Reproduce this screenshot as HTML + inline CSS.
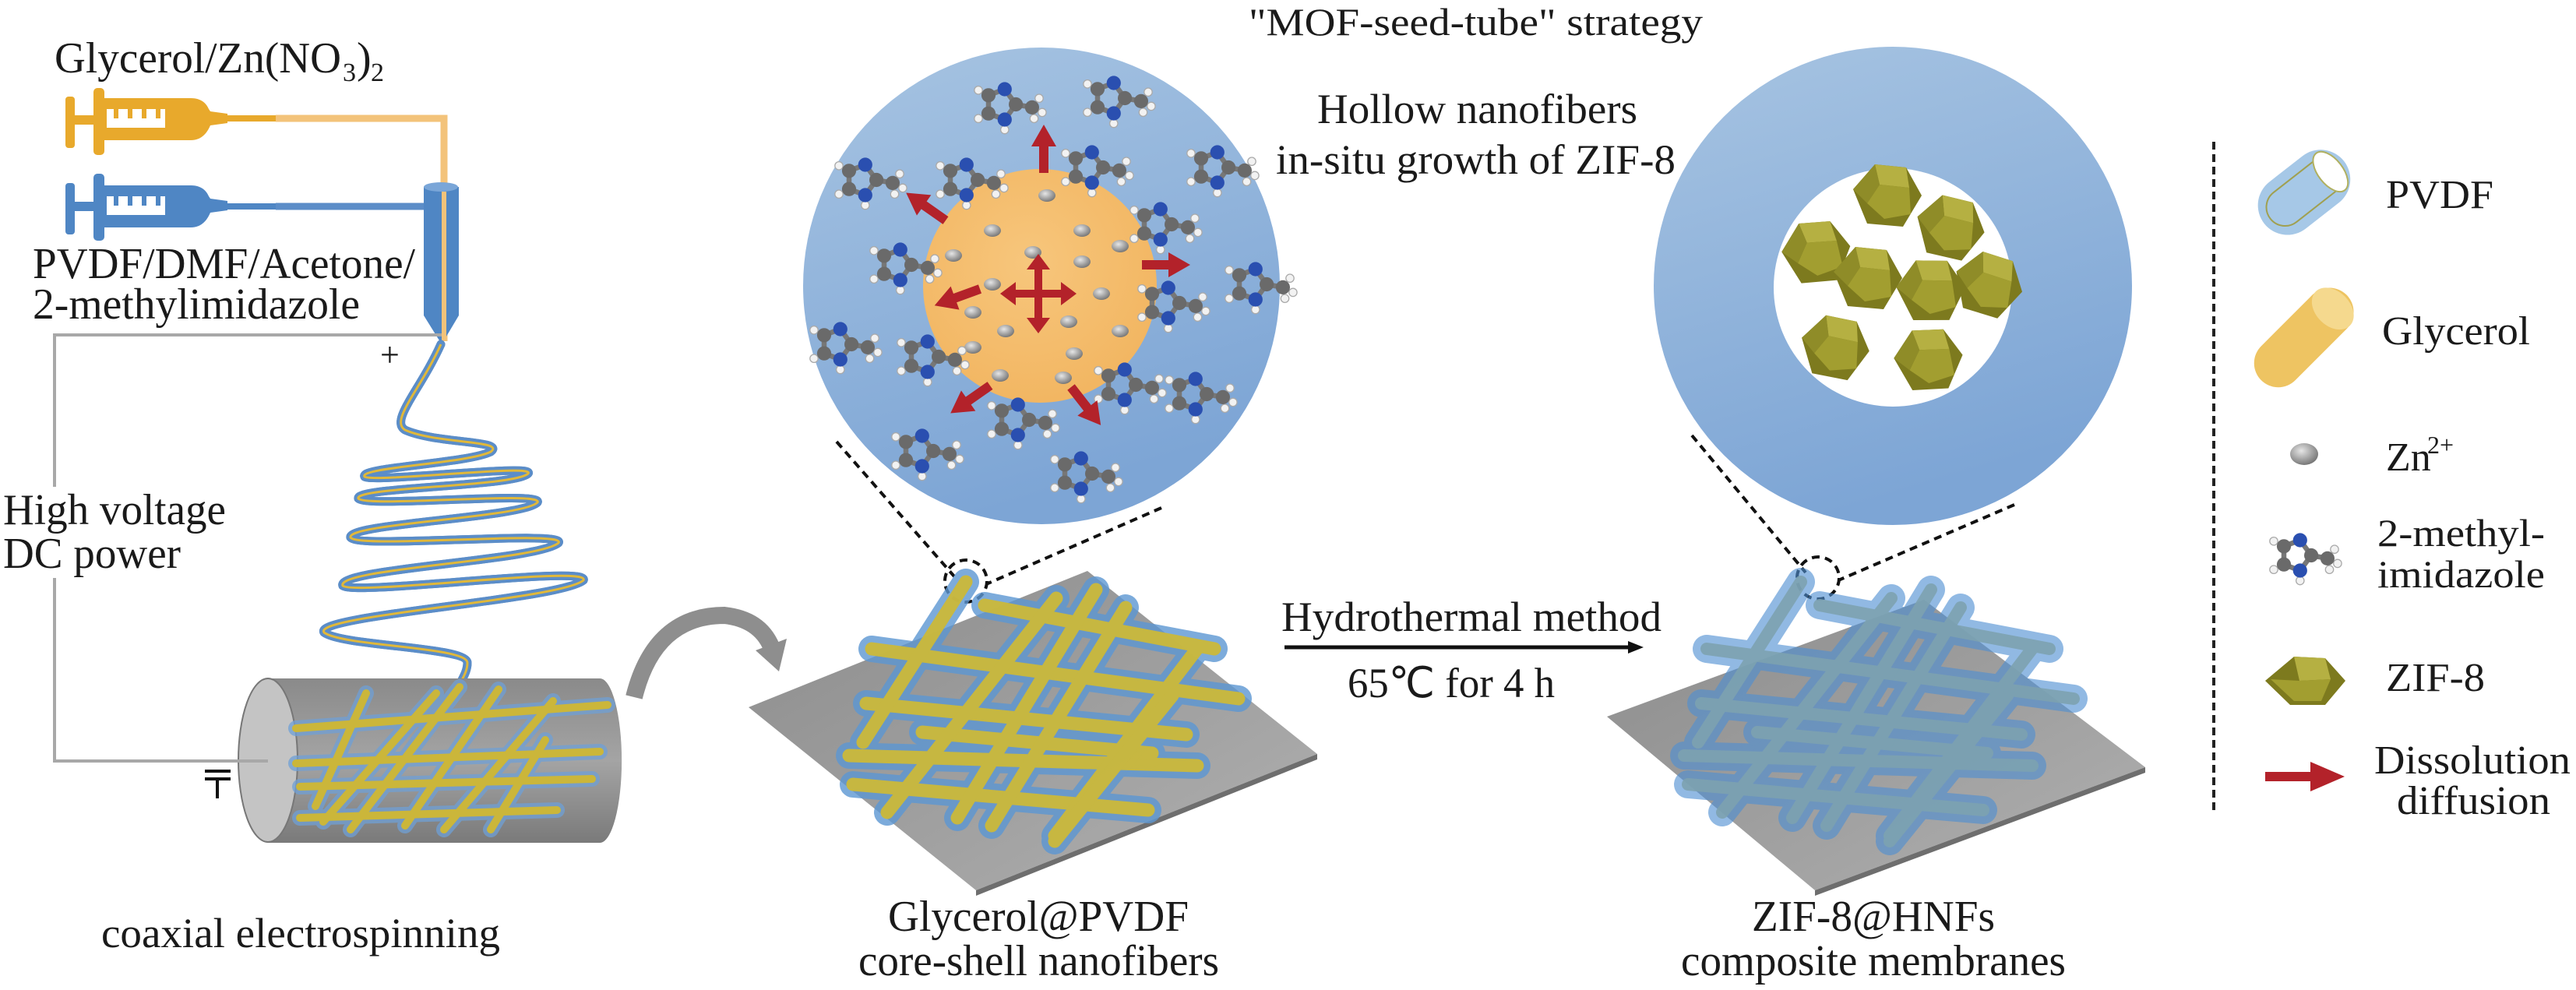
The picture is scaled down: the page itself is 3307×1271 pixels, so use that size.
<!DOCTYPE html>
<html><head><meta charset="utf-8"><style>
html,body{margin:0;padding:0;background:#fff;}
svg{display:block;}
</style></head><body>
<svg width="3307" height="1271" viewBox="0 0 3307 1271" xmlns="http://www.w3.org/2000/svg" font-family="'Liberation Serif', 'Times New Roman', serif" fill="#1a1a1a">
<defs>
<linearGradient id="cb" x1="0" y1="0" x2="0.3" y2="1">
<stop offset="0" stop-color="#a7c4e2"/><stop offset="1" stop-color="#7da5d5"/></linearGradient>
<radialGradient id="or" cx="0.45" cy="0.4" r="0.6"><stop offset="0" stop-color="#f7c67c"/><stop offset="1" stop-color="#f2b662"/></radialGradient>
<linearGradient id="drum" x1="0" y1="0" x2="0" y2="1">
<stop offset="0" stop-color="#8a8a8a"/><stop offset="0.5" stop-color="#a4a4a4"/><stop offset="1" stop-color="#7a7a7a"/></linearGradient>
<linearGradient id="plate" x1="0" y1="0" x2="1" y2="1">
<stop offset="0" stop-color="#8c8c8c"/><stop offset="1" stop-color="#b0b0b0"/></linearGradient>
<radialGradient id="zn" cx="0.4" cy="0.35" r="0.7"><stop offset="0" stop-color="#e6e6e6"/><stop offset="1" stop-color="#707070"/></radialGradient>
<g id="rarr"><rect x="0" y="-6" width="38" height="12" fill="#b3222a"/><polygon points="34,-16 62,0 34,16" fill="#b3222a"/></g>
<g id="mol0">
<g stroke="#777" stroke-width="5">
<line x1="-20" y1="-9" x2="-20" y2="9"/><line x1="-20" y1="-9" x2="-4" y2="-15"/><line x1="-20" y1="9" x2="-4" y2="15"/>
<line x1="-4" y1="-15" x2="7" y2="0"/><line x1="-4" y1="15" x2="7" y2="0"/><line x1="7" y1="0" x2="23" y2="3"/>
</g>
<circle cx="-30" cy="-14" r="4" fill="#f2f2f2" stroke="#aaa" stroke-width="1"/>
<circle cx="-30" cy="14" r="4" fill="#f2f2f2" stroke="#aaa" stroke-width="1"/>
<circle cx="-4" cy="25" r="4" fill="#f2f2f2" stroke="#aaa" stroke-width="1"/>
<circle cx="30" cy="-6" r="4" fill="#f2f2f2" stroke="#aaa" stroke-width="1"/>
<circle cx="33" cy="8" r="4" fill="#f2f2f2" stroke="#aaa" stroke-width="1"/>
<circle cx="25" cy="14" r="4" fill="#f2f2f2" stroke="#aaa" stroke-width="1"/>
<circle cx="-20" cy="-9" r="7" fill="#6a6a6a"/><circle cx="-20" cy="9" r="7" fill="#6a6a6a"/>
<circle cx="-4" cy="-15" r="7" fill="#2a4fb0"/><circle cx="-4" cy="15" r="7" fill="#2a4fb0"/>
<circle cx="7" cy="0" r="7" fill="#6a6a6a"/><circle cx="23" cy="3" r="7" fill="#6a6a6a"/>
</g>
<g id="mol"><use href="#mol0" transform="scale(1.3)"/></g>
<g id="zif">
<polygon points="-42,-8 -14,-40 26,-36 46,0 22,40 -24,36" fill="#7d7a1e"/>
<polygon points="-14,-40 26,-36 30,-10 -8,-14" fill="#b5b042"/>
<polygon points="-8,-14 30,-10 32,24 -2,30 -24,10" fill="#a29e30"/>
<polygon points="-42,-8 -14,-40 -8,-14 -24,10" fill="#8f8c28"/>
</g>
</defs>

<!-- ===== LEFT: electrospinning ===== -->
<text x="70" y="93" font-size="56" textLength="368" lengthAdjust="spacingAndGlyphs">Glycerol/Zn(NO</text>
<text x="440" y="104" font-size="34">3</text>
<text x="458" y="93" font-size="56">)</text>
<text x="476" y="104" font-size="34">2</text>

<polyline points="354,152 570,152 570,438" fill="none" stroke="#f3c37a" stroke-width="9"/>
<line x1="354" y1="265" x2="548" y2="265" stroke="#5b8dc8" stroke-width="9"/>

<g fill="#e8a92c">
<rect x="84" y="124" width="12" height="66" rx="4"/>
<rect x="94" y="148" width="30" height="12"/>
<rect x="120" y="113" width="14" height="86" rx="5"/>
<path d="M132,126 L245,126 Q262,126 268,140 L270,143 L292,146 L292,158 L270,161 Q262,180 245,180 L132,180 Z"/>
<rect x="290" y="148" width="64" height="8"/>
</g>
<path d="M137,140 h75 v24 h-75 z" fill="#fff"/>
<g fill="#e8a92c"><rect x="146" y="140" width="6" height="12"/><rect x="164" y="140" width="6" height="12"/><rect x="182" y="140" width="6" height="12"/><rect x="200" y="140" width="6" height="12"/></g>
<g fill="#4f86c4">
<rect x="84" y="235" width="12" height="66" rx="4"/>
<rect x="94" y="259" width="30" height="12"/>
<rect x="120" y="223" width="14" height="86" rx="5"/>
<path d="M132,238 L245,238 Q262,238 268,252 L270,255 L292,258 L292,270 L270,273 Q262,292 245,292 L132,292 Z"/>
<rect x="290" y="261" width="64" height="8"/>
</g>
<path d="M137,252 h75 v24 h-75 z" fill="#fff"/>
<g fill="#4f86c4"><rect x="146" y="252" width="6" height="12"/><rect x="164" y="252" width="6" height="12"/><rect x="182" y="252" width="6" height="12"/><rect x="200" y="252" width="6" height="12"/></g>
<path d="M544,240 L589,240 L589,405 L567,442 L544,405 Z" fill="#4f86c4"/>
<ellipse cx="566" cy="240" rx="22" ry="6" fill="#7aa6d8"/>
<line x1="570" y1="246" x2="570" y2="438" stroke="#f3c37a" stroke-width="6"/>

<text x="42" y="357" font-size="56" textLength="491" lengthAdjust="spacingAndGlyphs">PVDF/DMF/Acetone/</text>
<text x="42" y="409" font-size="56" textLength="420" lengthAdjust="spacingAndGlyphs">2-methylimidazole</text>

<polyline points="567,430 70,430 70,625" fill="none" stroke="#a8a8a8" stroke-width="4"/>
<polyline points="70,742 70,977 344,977" fill="none" stroke="#a8a8a8" stroke-width="4"/>
<text x="488" y="470" font-size="44">+</text>
<text x="4" y="673" font-size="56" textLength="286" lengthAdjust="spacingAndGlyphs">High voltage</text>
<text x="4" y="729" font-size="56" textLength="228" lengthAdjust="spacingAndGlyphs">DC power</text>
<g stroke="#111" stroke-width="4"><line x1="263" y1="990" x2="296" y2="990"/><line x1="263" y1="1000" x2="296" y2="1000"/><line x1="279" y1="1000" x2="279" y2="1025"/></g>

<path id="spiral" d="M566,442 C540,500 500,540 520,552 C560,570 650,565 630,580 C600,595 460,600 468,612 C480,620 690,595 678,608 C660,625 455,625 460,640 C470,652 700,630 690,645 C670,665 445,672 450,690 C460,705 730,680 717,697 C690,720 430,730 440,752 C455,765 760,725 749,745 C720,770 400,790 416,812 C440,830 600,830 600,851 C600,865 590,875 589,883" fill="none" stroke="#5b8dc8" stroke-width="11" stroke-linecap="round"/>
<use href="#spiral" stroke="#e0b83a" stroke-width="3"/>
<path d="M566,442 C540,500 500,540 520,552 C560,570 650,565 630,580 C600,595 460,600 468,612 C480,620 690,595 678,608 C660,625 455,625 460,640 C470,652 700,630 690,645 C670,665 445,672 450,690 C460,705 730,680 717,697 C690,720 430,730 440,752 C455,765 760,725 749,745 C720,770 400,790 416,812 C440,830 600,830 600,851 C600,865 590,875 589,883" fill="none" stroke="#e0b83a" stroke-width="3"/>

<path d="M344,871 L770,871 A28,105 0 0 1 770,1082 L344,1082 Z" fill="url(#drum)"/>
<ellipse cx="344" cy="976" rx="38" ry="105" fill="#c4c4c4" stroke="#777" stroke-width="2"/>
<line x1="300" y1="977" x2="344" y2="977" stroke="#a8a8a8" stroke-width="4"/>
<g stroke-linecap="round">
<g stroke="#6fa0d6" stroke-width="20" opacity="0.75">
<line x1="380" y1="935" x2="780" y2="905"/><line x1="380" y1="980" x2="770" y2="965"/><line x1="385" y1="1010" x2="760" y2="1000"/><line x1="385" y1="1050" x2="715" y2="1040"/>
<line x1="470" y1="890" x2="405" y2="1035"/><line x1="560" y1="890" x2="415" y2="1055"/><line x1="590" y1="882" x2="450" y2="1065"/><line x1="640" y1="885" x2="520" y2="1060"/><line x1="710" y1="900" x2="570" y2="1065"/><line x1="700" y1="950" x2="630" y2="1065"/>
</g>
<g stroke="#cbb63a" stroke-width="10">
<line x1="380" y1="935" x2="780" y2="905"/><line x1="380" y1="980" x2="770" y2="965"/><line x1="385" y1="1010" x2="760" y2="1000"/><line x1="385" y1="1050" x2="715" y2="1040"/>
<line x1="470" y1="890" x2="405" y2="1035"/><line x1="560" y1="890" x2="415" y2="1055"/><line x1="590" y1="882" x2="450" y2="1065"/><line x1="640" y1="885" x2="520" y2="1060"/><line x1="710" y1="900" x2="570" y2="1065"/><line x1="700" y1="950" x2="630" y2="1065"/>
</g></g>
<text x="130" y="1216" font-size="54" textLength="512" lengthAdjust="spacingAndGlyphs">coaxial electrospinning</text>

<path d="M814,895 Q840,790 930,790 Q975,795 990,830" fill="none" stroke="#8e8e8e" stroke-width="22"/>
<polygon points="970,835 1010,820 1000,862" fill="#8e8e8e"/>

<!-- ===== circle 1 ===== -->
<circle cx="1337" cy="367" r="306" fill="url(#cb)"/>
<circle cx="1335" cy="367" r="150" fill="url(#or)"/>
<g fill="url(#zn)">
<ellipse cx="1344" cy="251" rx="11" ry="8"/><ellipse cx="1274" cy="296" rx="11" ry="8"/><ellipse cx="1389" cy="296" rx="11" ry="8"/>
<ellipse cx="1224" cy="328" rx="11" ry="8"/><ellipse cx="1326" cy="324" rx="11" ry="8"/><ellipse cx="1438" cy="316" rx="11" ry="8"/>
<ellipse cx="1389" cy="336" rx="11" ry="8"/><ellipse cx="1274" cy="365" rx="11" ry="8"/><ellipse cx="1414" cy="377" rx="11" ry="8"/>
<ellipse cx="1249" cy="401" rx="11" ry="8"/><ellipse cx="1372" cy="413" rx="11" ry="8"/><ellipse cx="1291" cy="425" rx="11" ry="8"/>
<ellipse cx="1438" cy="425" rx="11" ry="8"/><ellipse cx="1249" cy="446" rx="11" ry="8"/><ellipse cx="1379" cy="454" rx="11" ry="8"/>
<ellipse cx="1284" cy="482" rx="11" ry="8"/><ellipse cx="1365" cy="485" rx="11" ry="8"/>
</g>
<g>
<use href="#mol" x="1295" y="134"/><use href="#mol" x="1435" y="126"/><use href="#mol" x="1116" y="231"/>
<use href="#mol" x="1246" y="231"/><use href="#mol" x="1407" y="215"/><use href="#mol" x="1568" y="215"/>
<use href="#mol" x="1161" y="340"/><use href="#mol" x="1495" y="288"/><use href="#mol" x="1617" y="365"/>
<use href="#mol" x="1505" y="389"/><use href="#mol" x="1084" y="442"/><use href="#mol" x="1196" y="458"/>
<use href="#mol" x="1449" y="494"/><use href="#mol" x="1540" y="506"/><use href="#mol" x="1312" y="539"/>
<use href="#mol" x="1189" y="579"/><use href="#mol" x="1393" y="608"/>
</g>
<use href="#rarr" transform="translate(1340,222) rotate(-90)"/>
<use href="#rarr" transform="translate(1214,283) rotate(-145)"/>
<use href="#rarr" transform="translate(1466,340) rotate(0)"/>
<use href="#rarr" transform="translate(1258,371) rotate(160)"/>
<use href="#rarr" transform="translate(1271,495) rotate(145)"/>
<use href="#rarr" transform="translate(1375,497) rotate(52)"/>
<g fill="#b3222a">
<rect x="1328" y="340" width="10" height="74"/><rect x="1296" y="372" width="74" height="10"/>
<polygon points="1333,326 1318,346 1348,346"/><polygon points="1333,428 1318,408 1348,408"/>
<polygon points="1284,377 1304,362 1304,392"/><polygon points="1382,377 1362,362 1362,392"/>
</g>

<text x="1603" y="45" font-size="50" textLength="583" lengthAdjust="spacingAndGlyphs">"MOF-seed-tube" strategy</text>
<text x="1691" y="158" font-size="54" textLength="411" lengthAdjust="spacingAndGlyphs">Hollow nanofibers</text>
<text x="1638" y="223" font-size="54" textLength="513" lengthAdjust="spacingAndGlyphs">in-situ growth of ZIF-8</text>

<g stroke="#111" stroke-width="4" stroke-dasharray="10,7" fill="none">
<line x1="1074" y1="567" x2="1225" y2="740"/>
<line x1="1491" y1="652" x2="1266" y2="750"/>
<circle cx="1240" cy="746" r="27"/>
</g>

<polygon points="961,908 1396,733 1691,968 1253,1143" fill="url(#plate)"/>
<polygon points="1253,1143 1691,968 1691,975 1253,1150" fill="#6e6e6e"/>
<g stroke-linecap="round">
<g stroke="#5c97d3" stroke-width="34" opacity="0.8">
<line x1="1119" y1="833" x2="1590" y2="897"/><line x1="1264" y1="777" x2="1559" y2="833"/><line x1="1112" y1="903" x2="1523" y2="943"/>
<line x1="1090" y1="970" x2="1537" y2="983"/><line x1="1095" y1="1007" x2="1474" y2="1040"/><line x1="1184" y1="940" x2="1479" y2="967"/>
<line x1="1240" y1="747" x2="1108" y2="953"/><line x1="1356" y1="768" x2="1139" y2="1043"/><line x1="1407" y1="757" x2="1229" y2="1050"/>
<line x1="1445" y1="780" x2="1273" y2="1060"/><line x1="1539" y1="830" x2="1354" y2="1073"/><line x1="1505" y1="893" x2="1354" y2="1080"/>
</g>
<g stroke="#ccb93a" stroke-width="17" opacity="0.95">
<line x1="1119" y1="833" x2="1590" y2="897"/><line x1="1264" y1="777" x2="1559" y2="833"/><line x1="1112" y1="903" x2="1523" y2="943"/>
<line x1="1090" y1="970" x2="1537" y2="983"/><line x1="1095" y1="1007" x2="1474" y2="1040"/><line x1="1184" y1="940" x2="1479" y2="967"/>
<line x1="1240" y1="747" x2="1108" y2="953"/><line x1="1356" y1="768" x2="1139" y2="1043"/><line x1="1407" y1="757" x2="1229" y2="1050"/>
<line x1="1445" y1="780" x2="1273" y2="1060"/><line x1="1539" y1="830" x2="1354" y2="1073"/><line x1="1505" y1="893" x2="1354" y2="1080"/>
</g></g>
<text x="1140" y="1195" font-size="56" textLength="386" lengthAdjust="spacingAndGlyphs">Glycerol@PVDF</text>
<text x="1102" y="1252" font-size="56" textLength="463" lengthAdjust="spacingAndGlyphs">core-shell nanofibers</text>

<text x="1645" y="810" font-size="54" textLength="488" lengthAdjust="spacingAndGlyphs">Hydrothermal method</text>
<line x1="1649" y1="831" x2="2095" y2="831" stroke="#111" stroke-width="5"/>
<polygon points="2110,831 2090,823 2090,839" fill="#111"/>
<text x="1730" y="895" font-size="54" textLength="266" lengthAdjust="spacingAndGlyphs">65℃ for 4 h</text>

<!-- ===== circle 2 ===== -->
<circle cx="2430" cy="367" r="307" fill="url(#cb)"/>
<circle cx="2430" cy="369" r="153" fill="#fff"/>
<use href="#zif" x="2421" y="251"/>
<use href="#zif" x="2502" y="292" transform="rotate(8 2502 292)"/>
<use href="#zif" x="2330" y="324" transform="rotate(-10 2330 324)"/>
<use href="#zif" x="2396" y="357"/>
<use href="#zif" x="2551" y="365" transform="rotate(12 2551 365)"/>
<use href="#zif" x="2477" y="373" transform="rotate(-5 2477 373)"/>
<use href="#zif" x="2354" y="446" transform="rotate(6 2354 446)"/>
<use href="#zif" x="2474" y="462" transform="rotate(-8 2474 462)"/>

<g stroke="#111" stroke-width="4" stroke-dasharray="10,7" fill="none">
<line x1="2172" y1="559" x2="2318" y2="735"/>
<line x1="2586" y1="648" x2="2360" y2="745"/>
<circle cx="2334" cy="742" r="27"/>
</g>

<polygon points="2063,920 2470,770 2754,985 2330,1143" fill="url(#plate)"/>
<polygon points="2330,1143 2754,985 2754,992 2330,1150" fill="#6e6e6e"/>
<g stroke-linecap="round" transform="translate(1072,0)">
<g stroke="#c9c27a" stroke-width="16" opacity="0.9">
<line x1="1119" y1="833" x2="1590" y2="897"/><line x1="1264" y1="777" x2="1559" y2="833"/><line x1="1112" y1="903" x2="1523" y2="943"/>
<line x1="1090" y1="970" x2="1537" y2="983"/><line x1="1095" y1="1007" x2="1474" y2="1040"/><line x1="1184" y1="940" x2="1479" y2="967"/>
<line x1="1240" y1="747" x2="1108" y2="953"/><line x1="1356" y1="768" x2="1139" y2="1043"/><line x1="1407" y1="757" x2="1229" y2="1050"/>
<line x1="1445" y1="780" x2="1273" y2="1060"/><line x1="1539" y1="830" x2="1354" y2="1073"/><line x1="1505" y1="893" x2="1354" y2="1080"/>
</g>
<g stroke="#4f8fd2" stroke-width="36" opacity="0.62">
<line x1="1119" y1="833" x2="1590" y2="897"/><line x1="1264" y1="777" x2="1559" y2="833"/><line x1="1112" y1="903" x2="1523" y2="943"/>
<line x1="1090" y1="970" x2="1537" y2="983"/><line x1="1095" y1="1007" x2="1474" y2="1040"/><line x1="1184" y1="940" x2="1479" y2="967"/>
<line x1="1240" y1="747" x2="1108" y2="953"/><line x1="1356" y1="768" x2="1139" y2="1043"/><line x1="1407" y1="757" x2="1229" y2="1050"/>
<line x1="1445" y1="780" x2="1273" y2="1060"/><line x1="1539" y1="830" x2="1354" y2="1073"/><line x1="1505" y1="893" x2="1354" y2="1080"/>
</g></g>
<text x="2249" y="1195" font-size="56" textLength="312" lengthAdjust="spacingAndGlyphs">ZIF-8@HNFs</text>
<text x="2158" y="1252" font-size="56" textLength="494" lengthAdjust="spacingAndGlyphs">composite membranes</text>

<!-- ===== legend ===== -->
<line x1="2842" y1="182" x2="2842" y2="1045" stroke="#222" stroke-width="4" stroke-dasharray="10,6"/>
<g transform="rotate(-38 2954 250)">
<rect x="2894" y="212" width="130" height="76" rx="38" fill="#9cc2e4" opacity="0.9"/>
<rect x="2904" y="226" width="110" height="48" rx="24" fill="none" stroke="#a0a050" stroke-width="2"/>
<ellipse cx="3002" cy="250" rx="16" ry="30" fill="#fff" stroke="#b0b060" stroke-width="2"/>
</g>
<text x="3063" y="267" font-size="52" textLength="138" lengthAdjust="spacingAndGlyphs">PVDF</text>
<g transform="rotate(-45 2958 433)">
<rect x="2880" y="402" width="155" height="62" rx="31" fill="#eec462"/>
<ellipse cx="3010" cy="433" rx="22" ry="31" fill="#f5d98e"/>
</g>
<text x="3058" y="442" font-size="52" textLength="190" lengthAdjust="spacingAndGlyphs">Glycerol</text>
<ellipse cx="2958" cy="583" rx="18" ry="14" fill="url(#zn)"/>
<text x="3063" y="604" font-size="52">Zn</text>
<text x="3116" y="582" font-size="32">2+</text>
<use href="#mol" x="2958" y="713"/>
<text x="3052" y="701" font-size="50" textLength="215" lengthAdjust="spacingAndGlyphs">2-methyl-</text>
<text x="3052" y="754" font-size="50" textLength="215" lengthAdjust="spacingAndGlyphs">imidazole</text>
<polygon points="2908,874 2945,843 2985,845 3011,874 2985,905 2940,905" fill="#7d7a1e"/>
<polygon points="2945,843 2985,845 2992,872 2952,874" fill="#b5b042"/>
<polygon points="2915,872 2952,874 2992,872 2980,900 2945,900" fill="#a29e30"/>
<text x="3063" y="887" font-size="52" textLength="127" lengthAdjust="spacingAndGlyphs">ZIF-8</text>
<rect x="2908" y="991" width="60" height="12" fill="#b3222a"/>
<polygon points="2966,978 3010,997 2966,1016" fill="#b3222a"/>
<text x="3048" y="993" font-size="52" textLength="252" lengthAdjust="spacingAndGlyphs">Dissolution</text>
<text x="3077" y="1045" font-size="52" textLength="197" lengthAdjust="spacingAndGlyphs">diffusion</text>
</svg>
</body></html>
